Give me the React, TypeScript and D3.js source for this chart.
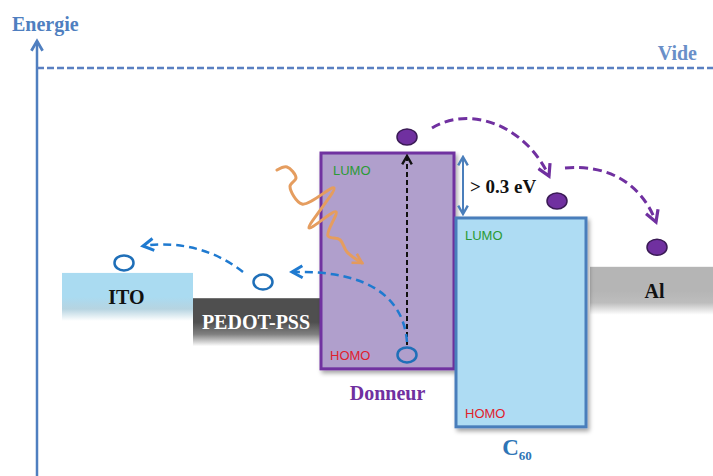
import React, { useEffect, useRef } from "react";
import * as d3 from "d3";

// energy levels in eV (vacuum = 0)
const layerNames = ["ITO", "PEDOT-PSS", "Al"];
const layerLevels = [-4.7, -5.28, -4.56];
const layerStart = [62, 193, 590];
const layerEnd = [193, 321, 713];
const layerColors = ["#aadbf1", "#4f4f4f", "#b5b5b5"];
const layerTextColors = ["#111", "#fff", "#111"];

const boxNames = ["Donneur", "C60"];
const boxLumo = [-1.95, -3.44];
const boxHomo = [-6.9, -8.23];
const boxStart = [321, 456];
const boxEnd = [454, 586];

const electronX = [407, 557, 657];
const electronE = [-1.58, -3.05, -4.11];
const holeX = [124, 263, 407];
const holeE = [-4.47, -4.91, -6.58];

// photon squiggle, turning points (x, eV)
const photonX = [277, 287, 296, 290, 302, 334, 309, 336, 328, 340, 347, 362];
const photonE = [-2.34, -2.27, -2.52, -2.71, -3.12, -2.75, -3.67, -3.3, -3.85, -3.94, -4.22, -4.47];

const W = 713;
const H = 476;

const App: React.FC = () => {
	const ref = useRef<SVGSVGElement>(null);

	useEffect(() => {
		const svg = d3.select(ref.current);
		svg.selectAll("*").remove();

		const x = d3.scaleLinear().domain([0, W]).range([0, W]);
		const y = d3.scaleLinear().domain([0, -1]).range([68, 68 + 43.6]);
		const serif = "'Liberation Serif', 'DejaVu Serif', serif";
		const sans = "'Liberation Sans', Arial, sans-serif";

		const defs = svg.append("defs");
		const shadow = defs.append("filter").attr("id", "shadow")
			.attr("x", "-10%").attr("y", "-10%").attr("width", "130%").attr("height", "130%");
		shadow.append("feDropShadow")
			.attr("dx", 2).attr("dy", 3).attr("stdDeviation", 2)
			.attr("flood-color", "#000").attr("flood-opacity", 0.35);

		const marker = (id: string, color: string, size: number, orient = "auto") => {
			defs.append("marker")
				.attr("id", id)
				.attr("viewBox", "0 0 10 10")
				.attr("refX", 8).attr("refY", 5)
				.attr("markerWidth", size).attr("markerHeight", size)
				.attr("markerUnits", "userSpaceOnUse")
				.attr("orient", orient)
				.append("path")
				.attr("d", "M1,1 L8,5 L1,9")
				.attr("fill", "none")
				.attr("stroke", color)
				.attr("stroke-width", 2)
				.attr("stroke-linejoin", "miter");
		};
		marker("arrPurple", "#7030a0", 16);
		marker("arrBlue", "#1f7ad0", 15);
		marker("arrBlack", "#111", 12);
		marker("arrAxis", "#4f7fc0", 14);
		marker("arrGap", "#4a7ebb", 12, "auto-start-reverse");
		marker("arrOrange", "#e39a5e", 13);

		// gradient fills for the electrode layers
		layerNames.forEach((name, i) => {
			const g = defs.append("linearGradient")
				.attr("id", `grad${i}`)
				.attr("x1", 0).attr("y1", 0).attr("x2", 0).attr("y2", 1);
			g.append("stop").attr("offset", "0%").attr("stop-color", layerColors[i]);
			g.append("stop").attr("offset", "50%").attr("stop-color", layerColors[i]);
			g.append("stop").attr("offset", "75%").attr("stop-color", d3.interpolateRgb(layerColors[i], "#c9c9c9")(0.4));
			g.append("stop").attr("offset", "100%").attr("stop-color", "#fff");
		});

		// energy axis
		svg.append("line")
			.attr("x1", 37).attr("x2", 37)
			.attr("y1", H).attr("y2", 41)
			.attr("stroke", "#4f7fc0").attr("stroke-width", 2.5)
			.attr("marker-end", "url(#arrAxis)");
		svg.append("text")
			.attr("x", 12).attr("y", 31)
			.attr("font-family", serif).attr("font-weight", "bold")
			.attr("font-size", 20).attr("fill", "#4f7fc0")
			.text("Energie");

		// vacuum level
		svg.append("line")
			.attr("x1", 37).attr("x2", W)
			.attr("y1", y(0)).attr("y2", y(0))
			.attr("stroke", "#5a80c2").attr("stroke-width", 2.5)
			.attr("stroke-dasharray", "7 3");
		svg.append("text")
			.attr("x", 697).attr("y", 60)
			.attr("text-anchor", "end")
			.attr("font-family", serif).attr("font-weight", "bold")
			.attr("font-size", 20).attr("fill", "#6a8fc8")
			.text("Vide");

		// electrode layers
		layerNames.forEach((name, i) => {
			const top = y(layerLevels[i]);
			svg.append("rect")
				.attr("x", x(layerStart[i])).attr("y", top)
				.attr("width", x(layerEnd[i]) - x(layerStart[i]))
				.attr("height", 48)
				.attr("fill", `url(#grad${i})`);
			svg.append("text")
				.attr("x", (x(layerStart[i]) + x(layerEnd[i])) / 2 + (i === 2 ? 3 : -1))
				.attr("y", top + 31)
				.attr("text-anchor", "middle")
				.attr("font-family", serif).attr("font-weight", "bold")
				.attr("font-size", 20).attr("fill", layerTextColors[i])
				.text(name);
		});

		// donor / acceptor boxes
		const boxFill = ["#b09fcc", "#aedcf3"];
		const boxStroke = ["#7030a0", "#4a7ebb"];
		boxNames.forEach((name, i) => {
			const x0 = x(boxStart[i]);
			const x1 = x(boxEnd[i]);
			const y0 = y(boxLumo[i]);
			const y1 = y(boxHomo[i]);
			svg.append("rect")
				.attr("x", x0).attr("y", y0)
				.attr("width", x1 - x0).attr("height", y1 - y0)
				.attr("fill", boxFill[i])
				.attr("stroke", boxStroke[i]).attr("stroke-width", 3)
				.attr("filter", "url(#shadow)");
			svg.append("text")
				.attr("x", x0 + (i === 0 ? 12 : 9)).attr("y", y0 + 22)
				.attr("font-family", sans).attr("font-size", 13).attr("fill", "#2a9a35")
				.text("LUMO");
			svg.append("text")
				.attr("x", x0 + 9).attr("y", y1 - 9)
				.attr("font-family", sans).attr("font-size", 13).attr("fill", "#e0202c")
				.text("HOMO");
		});

		svg.append("text")
			.attr("x", (x(boxStart[0]) + x(boxEnd[0])) / 2).attr("y", y(boxHomo[0]) + 31)
			.attr("text-anchor", "middle")
			.attr("font-family", serif).attr("font-weight", "bold")
			.attr("font-size", 20).attr("fill", "#7030a0")
			.text("Donneur");

		const c60 = svg.append("text")
			.attr("x", (x(boxStart[1]) + x(boxEnd[1])) / 2 - 4).attr("y", y(boxHomo[1]) + 28)
			.attr("text-anchor", "middle")
			.attr("font-family", serif).attr("font-weight", "bold")
			.attr("fill", "#2e75b6");
		c60.append("tspan").attr("font-size", 23).text("C");
		c60.append("tspan").attr("font-size", 13).attr("dy", 5).text("60");

		// gap arrow between the two LUMO levels
		svg.append("line")
			.attr("x1", 463).attr("x2", 463)
			.attr("y1", y(boxLumo[0]) + 4).attr("y2", y(boxLumo[1]) - 4)
			.attr("stroke", "#4a7ebb").attr("stroke-width", 2)
			.attr("marker-start", "url(#arrGap)")
			.attr("marker-end", "url(#arrGap)");
		svg.append("text")
			.attr("x", 470).attr("y", 193)
			.attr("font-family", serif).attr("font-weight", "bold")
			.attr("font-size", 19).attr("fill", "#111")
			.text("> 0.3 eV");

		// excitation HOMO -> LUMO
		svg.append("line")
			.attr("x1", x(holeX[2])).attr("x2", x(holeX[2]))
			.attr("y1", y(holeE[2]) - 10).attr("y2", y(boxLumo[0]) + 3)
			.attr("stroke", "#111").attr("stroke-width", 2)
			.attr("stroke-dasharray", "5 3")
			.attr("marker-end", "url(#arrBlack)");

		// photon
		const photon = d3.line<number>()
			.x((d) => x(d))
			.y((_, i) => y(photonE[i]))
			.curve(d3.curveCatmullRom.alpha(0.5));
		svg.append("path")
			.attr("d", photon(photonX))
			.attr("fill", "none")
			.attr("stroke", "#e59d5f").attr("stroke-width", 3)
			.attr("stroke-linecap", "round")
			.attr("stroke-linejoin", "round")
			.attr("marker-end", "url(#arrOrange)");

		// electron transfer (purple) and hole transfer (blue)
		const curves = [
			{ d: "M432,128 C470,105 525,125 549,176", color: "#7030a0", m: "arrPurple", w: 3, dash: "9 5" },
			{ d: "M565,168 C610,164 642,185 656,222", color: "#7030a0", m: "arrPurple", w: 3, dash: "9 5" },
			{ d: "M407,342 C404,300 372,270 292,272", color: "#1f7ad0", m: "arrBlue", w: 2.5, dash: "8 5" },
			{ d: "M243,272 C218,252 182,240 143,246", color: "#1f7ad0", m: "arrBlue", w: 2.5, dash: "8 5" },
		];
		curves.forEach((c) => {
			svg.append("path")
				.attr("d", c.d)
				.attr("fill", "none")
				.attr("stroke", c.color).attr("stroke-width", c.w)
				.attr("stroke-dasharray", c.dash)
				.attr("marker-end", `url(#${c.m})`);
		});

		// charges
		svg.selectAll(".electron")
			.data(electronX)
			.join("ellipse")
			.attr("cx", (d) => x(d))
			.attr("cy", (_, i) => y(electronE[i]))
			.attr("rx", 10).attr("ry", 8)
			.attr("fill", "#7030a0")
			.attr("stroke", "#3a1a55").attr("stroke-width", 1.5);

		svg.selectAll(".hole")
			.data(holeX)
			.join("ellipse")
			.attr("cx", (d) => x(d))
			.attr("cy", (_, i) => y(holeE[i]))
			.attr("rx", 9.5).attr("ry", 7.5)
			.attr("fill", "none")
			.attr("stroke", "#1f6fb8").attr("stroke-width", 2.5);
	}, []);

	return (
		<div style={{ position: "fixed", left: 0, top: 0, background: "#fff" }}>
			<svg ref={ref} width={W} height={H} viewBox={`0 0 ${W} ${H}`} style={{ display: "block" }} />
		</div>
	);
};

export default App;
